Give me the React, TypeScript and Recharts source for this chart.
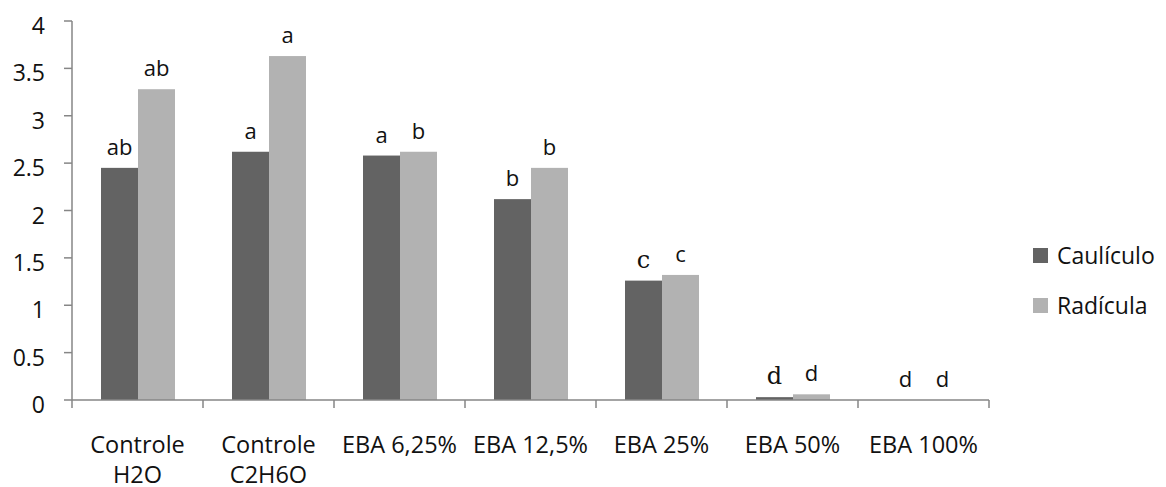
import React from 'react';
import { BarChart, Bar, XAxis, YAxis, Legend } from 'recharts';

const categories = ['Controle\nH2O', 'Controle\nC2H6O', 'EBA 6,25%', 'EBA 12,5%', 'EBA 25%', 'EBA 50%', 'EBA 100%'];
const cauliculo = [2.45, 2.62, 2.58, 2.12, 1.26, 0.03, 0];
const radicula = [3.28, 3.63, 2.62, 2.45, 1.32, 0.06, 0];
const cauliculoLetters = ['ab', 'a', 'a', 'b', 'c', 'd', 'd'];
const radiculaLetters = ['ab', 'a', 'b', 'b', 'c', 'd', 'd'];
const yTicks = [0, 0.5, 1, 1.5, 2, 2.5, 3, 3.5, 4];

// a couple of letters were typed in a serif face
const serifCauliculo = [4, 5];

const data = categories.map((name, i) => ({
    name,
    cauliculo: cauliculo[i],
    radicula: radicula[i],
    cLetter: cauliculoLetters[i],
    rLetter: radiculaLetters[i],
}));

const FONT = '"Open Sans", sans-serif';
const AXIS = '#868686';
const DARK = '#636363';
const LIGHT = '#b2b2b2';

const W = 1166;
const H = 487;
const PLOT_LEFT = 72;
const PLOT_RIGHT = 989;
const BAND = (PLOT_RIGHT - PLOT_LEFT) / categories.length;

const XTick = (props: any) => {
    const { x, y, payload, index } = props;
    const lines = String(payload.value).split('\n');
    return (
        <g>
            <line x1={x - BAND / 2} x2={x - BAND / 2} y1={y - 8} y2={y} stroke={AXIS} strokeWidth={1.5} />
            {index === categories.length - 1 && (
                <line x1={x + BAND / 2} x2={x + BAND / 2} y1={y - 8} y2={y} stroke={AXIS} strokeWidth={1.5} />
            )}
            <text x={x} y={y + 45} textAnchor="middle" fontFamily={FONT} fontSize={23.5} fill="#111">
                {lines.map((l, i) => (
                    <tspan key={i} x={x} dy={i === 0 ? 0 : 30}>{l}</tspan>
                ))}
            </text>
        </g>
    );
};

const YTick = (props: any) => {
    const { x, y, payload } = props;
    return (
        <text x={x} y={y + 13} textAnchor="end" fontFamily={FONT} fontSize={23} fill="#111">
            {payload.value}
        </text>
    );
};

// bar with its significance letter drawn on top (also for zero-height bars)
const LetterBar = (letterKey: string, serifIdx: number[]) => (props: any) => {
    const { x, y, width, height, fill, payload, index } = props;
    const serif = serifIdx.includes(index);
    return (
        <g>
            {height > 0 && <rect x={x} y={y} width={width} height={height} fill={fill} />}
            <text
                x={x + width / 2}
                y={y - 13}
                textAnchor="middle"
                fontFamily={serif ? '"DejaVu Serif", serif' : FONT}
                fontSize={serif ? 24 : 22}
                fill="#111"
            >
                {payload[letterKey]}
            </text>
        </g>
    );
};

const renderLegend = (props: any) => {
    const { payload } = props;
    return (
        <div style={{ fontFamily: FONT, fontSize: 23, color: '#111' }}>
            {payload.map((entry: any, i: number) => (
                <div key={i} style={{ display: 'flex', alignItems: 'center', height: 50 }}>
                    <span style={{ width: 15, height: 15, background: entry.color, marginRight: 9, display: 'inline-block' }} />
                    <span>{entry.value}</span>
                </div>
            ))}
        </div>
    );
};

export default function App() {
    return (
        <div style={{ position: 'absolute', left: 0, top: 0, background: '#fff' }}>
            <BarChart
                width={W}
                height={H}
                data={data}
                margin={{ top: 21, right: W - PLOT_RIGHT, left: 0, bottom: 27 }}
                barSize={37}
                barGap={0}
            >
                <XAxis
                    dataKey="name"
                    height={60}
                    interval={0}
                    tickLine={false}
                    axisLine={{ stroke: AXIS, strokeWidth: 1.5 }}
                    tick={<XTick />}
                />
                <YAxis
                    width={PLOT_LEFT}
                    domain={[0, 4]}
                    ticks={yTicks}
                    tickSize={8}
                    tickMargin={19}
                    tickLine={{ stroke: AXIS, strokeWidth: 1.5 }}
                    axisLine={{ stroke: AXIS, strokeWidth: 1.5 }}
                    tick={<YTick />}
                />
                <Legend
                    layout="horizontal"
                    align="center"
                    verticalAlign="middle"
                    content={renderLegend}
                    wrapperStyle={{ left: 1033, top: 230, right: 'auto', width: 'auto' }}
                />
                <Bar
                    dataKey="cauliculo"
                    name="Caulículo"
                    fill={DARK}
                    isAnimationActive={false}
                    shape={LetterBar('cLetter', serifCauliculo)}
                />
                <Bar
                    dataKey="radicula"
                    name="Radícula"
                    fill={LIGHT}
                    isAnimationActive={false}
                    shape={LetterBar('rLetter', [])}
                />
            </BarChart>
        </div>
    );
}
